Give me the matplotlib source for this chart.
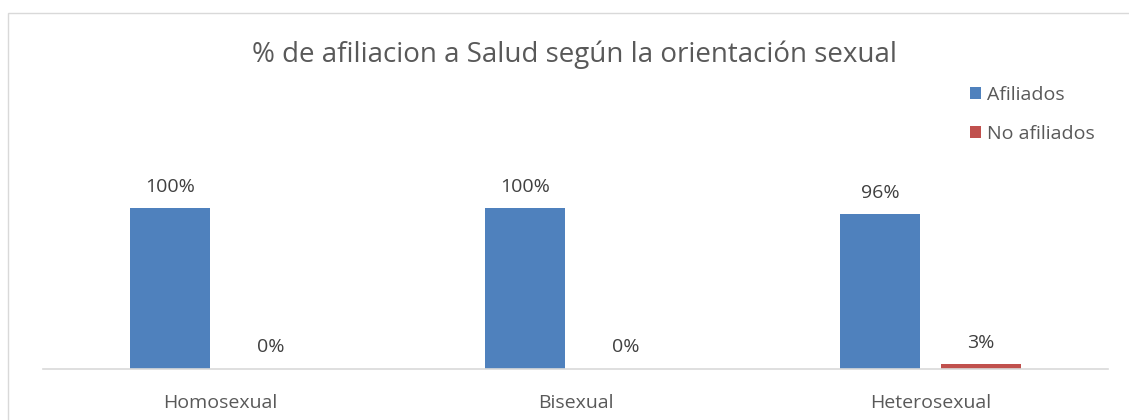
"""Bar chart: % de afiliacion a Salud segun la orientacion sexual."""

import matplotlib

matplotlib.use("Agg")
import matplotlib.pyplot as plt
import numpy as np
from matplotlib.patches import Rectangle

categories = ["Homosexual", "Bisexual", "Heterosexual"]
afiliados = [1.00, 1.00, 0.96]
no_afiliados = [0.00, 0.00, 0.03]
series_names = ["Afiliados", "No afiliados"]

plt.rcParams["font.family"] = ["Open Sans", "DejaVu Sans"]

fig = plt.figure(figsize=(11.29, 4.2), dpi=100)
W, H = 1129, 420

# outer chart border (partly outside the image, like the screenshot)
fig.patches.append(
    Rectangle((8 / W, -0.1), 1.2, 1 - 13 / H + 0.1, transform=fig.transFigure,
              fill=False, edgecolor="#D9D9D9", linewidth=1.0)
)

ax = fig.add_axes([43 / W, 51 / H, 1065 / W, 193.2 / H])
x = np.arange(len(categories))
width = 0.225
offset = 0.142

blue = "#4F81BD"
red = "#C0504D"
b1 = ax.bar(x - offset, afiliados, width, color=blue, label=series_names[0])
b2 = ax.bar(x + offset, no_afiliados, width, color=red, label=series_names[1])

for bars, vals in ((b1, afiliados), (b2, no_afiliados)):
    for rect, v in zip(bars, vals):
        ax.annotate(f"{v:.0%}", (rect.get_x() + rect.get_width() / 2, v),
                    xytext=(0, 9), textcoords="offset points",
                    ha="center", va="bottom", fontsize=14, color="#404040")

ax.set_xlim(-0.5, 2.5)
ax.set_ylim(0, 1.2)
ax.set_xticks(x)
ax.set_xticklabels(categories, fontsize=14, color="#595959")
ax.tick_params(axis="x", length=0, pad=18)
ax.set_yticks([])
for side in ("top", "left", "right"):
    ax.spines[side].set_visible(False)
ax.spines["bottom"].set_color("#D9D9D9")
ax.spines["bottom"].set_linewidth(1.2)

fig.text(575 / W, 1 - 55 / H, "% de afiliacion a Salud según la orientación sexual",
         ha="center", va="center", fontsize=20, color="#595959")

fig.legend(loc="upper left", bbox_to_anchor=(960 / W, 1 - 76 / H),
           frameon=False, fontsize=14, labelcolor="#595959",
           handlelength=0.6, handleheight=0.6, handletextpad=0.3,
           labelspacing=1.1, borderpad=0)

fig.savefig("out.png", dpi=100)
